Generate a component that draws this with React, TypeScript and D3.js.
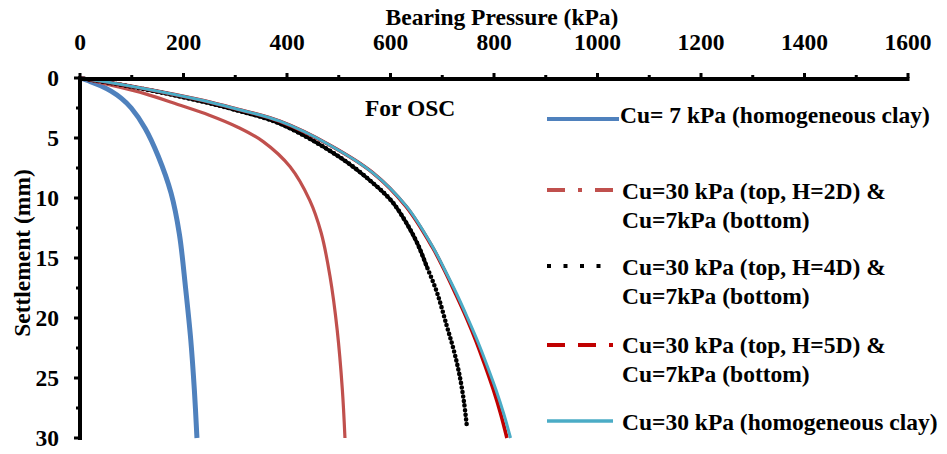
import React from "react";
import * as d3 from "d3";

// [pressure kPa, settlement mm]
const cu7Homogeneous: [number, number][] = [
  [0, 0], [20, 0.3], [40, 0.65], [60, 1.1], [80, 1.7], [99, 2.5], [126, 4.2], [151, 6.5],
  [176, 9.6], [192, 13], [204, 17.5], [214, 21.8], [221, 26], [226, 30],
];
const cu30TopH2D: [number, number][] = [
  [0, 0], [60, 0.6], [125, 1.3], [189, 2.2], [250, 3.1], [305, 4.1], [354, 5.3], [406, 7.4],
  [444, 10.2], [466, 12.9], [483, 16.5], [497, 21], [507, 26], [512, 30],
];
const cu30TopH4D: [number, number][] = [
  [0, 0], [60, 0.42], [120, 0.9], [180, 1.42], [240, 2.0], [295, 2.6], [386, 3.8], [502, 6.6],
  [566, 8.75], [603, 10.3], [631, 12.1], [652, 13.8], [670, 15.7], [690, 17.9], [709, 20.7],
  [723, 22.8], [734, 24.9], [742, 27], [748, 29.2],
];
const cu30TopH5D: [number, number][] = [
  [0, 0], [60, 0.4], [120, 0.85], [180, 1.35], [240, 1.9], [295, 2.5], [386, 3.6], [483, 5.6],
  [566, 7.9], [630, 10.7], [681, 14.1], [704, 16], [726, 18], [747, 20], [766, 22], [783, 24],
  [799, 26], [813, 28], [825, 30],
];
const cu30Homogeneous: [number, number][] = [
  [0, 0], [60, 0.4], [120, 0.85], [180, 1.35], [240, 1.9], [295, 2.5], [386, 3.6], [483, 5.6],
  [566, 7.9], [631, 10.7], [682, 14.1], [705, 16], [728, 18], [749, 20], [769, 22], [787, 24],
  [804, 26], [819, 28], [832, 30],
];

const pressureTicks = [0, 200, 400, 600, 800, 1000, 1200, 1400, 1600];
const pressureMinor = [100, 300, 500, 700, 900, 1100, 1300, 1500];
const settlementTicks = [0, 5, 10, 15, 20, 25, 30];
const settlementMinor = [2.5, 7.5, 12.5, 17.5, 22.5, 27.5];

const legendLabels = [
  ["Cu= 7 kPa (homogeneous clay)"],
  ["Cu=30 kPa (top, H=2D) &", "Cu=7kPa (bottom)"],
  ["Cu=30 kPa (top, H=4D) &", "Cu=7kPa (bottom)"],
  ["Cu=30 kPa (top, H=5D) &", "Cu=7kPa (bottom)"],
  ["Cu=30 kPa (homogeneous clay)"],
];

const FONT = "'Liberation Serif', 'Times New Roman', serif";

export default function App() {
  const x = d3.scaleLinear().domain([0, 1600]).range([80, 908]);
  const y = d3.scaleLinear().domain([0, 30]).range([78, 438]);
  const line = d3
    .line<[number, number]>()
    .x((d) => x(d[0]))
    .y((d) => y(d[1]))
    .curve(d3.curveCatmullRom.alpha(0.5));

  const series = [
    { data: cu7Homogeneous, color: "#4F81BD", width: 5, dash: "", legendDash: "", legendWidth: 4, cap: "butt" },
    { data: cu30TopH2D, color: "#C0504D", width: 3.2, dash: "", legendDash: "18 13 4 13", legendWidth: 4, cap: "butt" },
    { data: cu30TopH4D, color: "#000000", width: 4.6, dash: "0 4.6", legendDash: "4 12.5", legendWidth: 4, cap: "round" },
    { data: cu30TopH5D, color: "#C00000", width: 3.6, dash: "", legendDash: "18 13", legendWidth: 4, cap: "butt" },
    { data: cu30Homogeneous, color: "#4BACC6", width: 3, dash: "", legendDash: "", legendWidth: 3.5, cap: "butt" },
  ];

  // markers of the 4D run are packed tightly over the upper part of the curve
  const denseH4D = cu30TopH4D.filter((d) => d[1] <= 15.7);

  const legendLineY = [119, 190, 266, 345, 421];
  const legendTextY = [[123], [199, 228], [275, 304], [353, 382], [430]];

  return (
    <svg
      width={947}
      height={454}
      style={{ position: "absolute", left: 0, top: 0, background: "#fff", fontFamily: FONT }}
      fontWeight="bold"
      fontSize={23.5}
    >
      <rect width={947} height={454} fill="#fff" />

      {/* curves */}
      {series.map((s, i) => (
        <g key={i}>
          {i === 2 && (
            <path d={line(denseH4D) || ""} fill="none" stroke="#000" strokeWidth={3.6} strokeLinecap="round" />
          )}
          <path
            d={line(s.data) || ""}
            fill="none"
            stroke={s.color}
            strokeWidth={s.width}
            strokeDasharray={s.dash || undefined}
            strokeLinecap={s.cap as any}
            strokeLinejoin="round"
          />
        </g>
      ))}

      {/* x axis (top) */}
      <text x={502} y={25} textAnchor="middle">Bearing Pressure (kPa)</text>
      {pressureTicks.map((t) => (
        <g key={t}>
          <line x1={x(t)} x2={x(t)} y1={78} y2={73} stroke="#000" strokeWidth={3} />
          <text x={x(t)} y={50} textAnchor="middle">{t}</text>
        </g>
      ))}
      {pressureMinor.map((t) => (
        <line key={t} x1={x(t)} x2={x(t)} y1={78} y2={75} stroke="#000" strokeWidth={3} />
      ))}
      <line x1={78.5} x2={909.5} y1={79} y2={79} stroke="#000" strokeWidth={4} />

      {/* y axis (left) */}
      {settlementTicks.map((t) => (
        <g key={t}>
          <line x1={80} x2={74} y1={y(t)} y2={y(t)} stroke="#000" strokeWidth={3} />
          <text x={59} y={y(t) + 8} textAnchor="end">{t}</text>
        </g>
      ))}
      {settlementMinor.map((t) => (
        <line key={t} x1={80} x2={76} y1={y(t)} y2={y(t)} stroke="#000" strokeWidth={3} />
      ))}
      <line x1={80} x2={80} y1={77} y2={440} stroke="#000" strokeWidth={4} />
      <text transform="translate(30,253) rotate(-90)" textAnchor="middle">Settlement (mm)</text>

      <text x={365} y={116}>For OSC</text>

      {/* legend */}
      {series.map((s, i) => (
        <g key={i}>
          <line
            x1={547}
            x2={i === 0 ? 619 : 613}
            y1={legendLineY[i]}
            y2={legendLineY[i]}
            stroke={s.color}
            strokeWidth={s.legendWidth}
            strokeDasharray={s.legendDash || undefined}
          />
          {legendLabels[i].map((txt, j) => (
            <text key={j} x={i === 0 ? 620 : 622} y={legendTextY[i][j]}>{txt}</text>
          ))}
        </g>
      ))}
    </svg>
  );
}
